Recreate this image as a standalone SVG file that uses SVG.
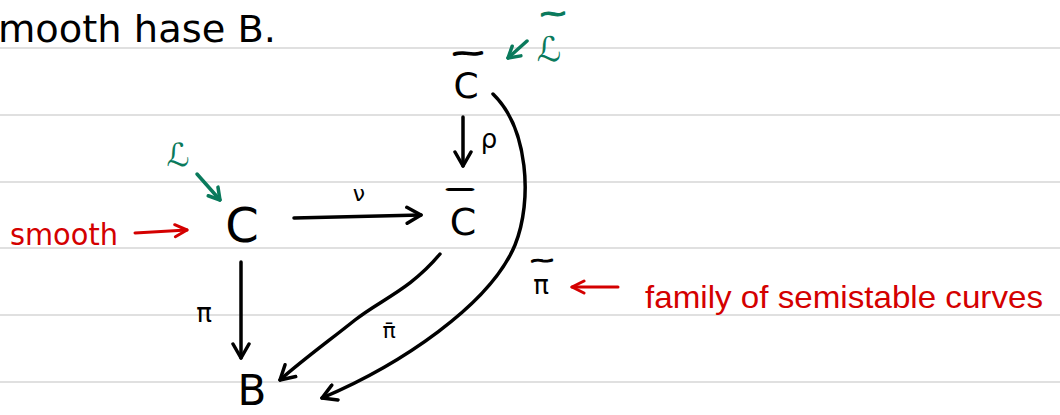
<svg xmlns="http://www.w3.org/2000/svg" width="1060" height="415" viewBox="0 0 1060 415">
  <style>
    .rule { stroke: #d6d6d6; stroke-width: 1.5; }
    .hw { font-family: "DejaVu Sans", "Liberation Sans", sans-serif; }
    .blk { fill: #000; }
    .red { fill: #d40000; }
    .grn { fill: #0a7a5c; }
    .acc { stroke-linejoin: round; }
    .cb { fill: none; stroke: #000; stroke-width: 3.5; stroke-linecap: round; }
    .cr { fill: none; stroke: #d40000; stroke-width: 3; stroke-linecap: round; }
    .cg { fill: none; stroke: #0a7a5c; stroke-width: 3.5; stroke-linecap: round; }
  </style>
  <defs>
    <marker id="ab" markerUnits="userSpaceOnUse" viewBox="-16 -10 18 20" refX="0" refY="0" markerWidth="18" markerHeight="20" orient="auto">
      <path d="M-14,-8 L0,0 L-14,8" fill="none" stroke="#000" stroke-width="3.5" stroke-linecap="round" stroke-linejoin="round"/>
    </marker>
    <marker id="ar" markerUnits="userSpaceOnUse" viewBox="-16 -10 18 20" refX="0" refY="0" markerWidth="18" markerHeight="20" orient="auto">
      <path d="M-12,-6 L0,0 L-12,6" fill="none" stroke="#d40000" stroke-width="3" stroke-linecap="round" stroke-linejoin="round"/>
    </marker>
    <marker id="ag" markerUnits="userSpaceOnUse" viewBox="-16 -10 18 20" refX="0" refY="0" markerWidth="18" markerHeight="20" orient="auto">
      <path d="M-11,-7 L0,0 L-11,6" fill="none" stroke="#0a7a5c" stroke-width="3.5" stroke-linecap="round" stroke-linejoin="round"/>
    </marker>
  </defs>
  <rect width="1060" height="415" fill="#fff"/>
  <g id="ruling">
    <line class="rule" x1="0" y1="48" x2="1060" y2="48"/>
    <line class="rule" x1="0" y1="115" x2="1060" y2="115"/>
    <line class="rule" x1="0" y1="182" x2="1060" y2="182"/>
    <line class="rule" x1="0" y1="248" x2="1060" y2="248"/>
    <line class="rule" x1="0" y1="315" x2="1060" y2="315"/>
    <line class="rule" x1="0" y1="382" x2="1060" y2="382"/>
  </g>
  <g id="heading">
    <text class="hw blk" x="-2" y="42" font-size="38" textLength="278" lengthAdjust="spacingAndGlyphs">mooth hase B.</text>
  </g>
  <g id="connectors">
    <line class="cb" x1="463" y1="117" x2="463" y2="166" marker-end="url(#ab)"/>
    <line class="cb" x1="294" y1="218" x2="421" y2="215" marker-end="url(#ab)"/>
    <line class="cb" x1="241" y1="262" x2="241" y2="358" marker-end="url(#ab)"/>
    <path class="cb" d="M440,254 C410,290 380,300 355,320 C330,340 300,362 280,380" marker-end="url(#ab)"/>
    <path class="cb" d="M493,94 C528,128 533,200 515,245 C490,305 400,365 322,398" marker-end="url(#ab)"/>
    <line class="cr" x1="135" y1="233" x2="187" y2="230" marker-end="url(#ar)"/>
    <line class="cr" x1="618" y1="287" x2="572" y2="287" marker-end="url(#ar)"/>
    <line class="cg" x1="197" y1="174" x2="220" y2="200" marker-end="url(#ag)"/>
    <line class="cg" x1="527" y1="41" x2="508" y2="58" marker-end="url(#ag)"/>
  </g>
  <g id="node-Ctilde">
    <text class="hw blk acc" x="450" y="59" font-size="18" font-weight="bold" stroke="#000" stroke-width="1.4" textLength="36" lengthAdjust="spacingAndGlyphs">~</text>
    <text class="hw blk" x="466" y="98" font-size="36" text-anchor="middle">C</text>
  </g>
  <g id="node-C">
    <text class="hw blk" x="242" y="242" font-size="48" text-anchor="middle">C</text>
  </g>
  <g id="node-Cbar">
    <text class="hw blk acc" x="446" y="197" font-size="10" stroke="#000" stroke-width="2.2" textLength="28" lengthAdjust="spacingAndGlyphs">¯</text>
    <text class="hw blk" x="463" y="235" font-size="38" text-anchor="middle">C</text>
  </g>
  <g id="node-B">
    <text class="hw blk" x="252" y="405" font-size="42" text-anchor="middle">B</text>
  </g>
  <g id="labels">
    <text class="hw blk" x="489" y="148" font-size="26" text-anchor="middle">ρ</text>
    <text class="hw blk" x="359" y="201" font-size="22" text-anchor="middle">ν</text>
    <text class="hw blk" x="204" y="322" font-size="26" text-anchor="middle">π</text>
    <text class="hw blk" x="389" y="338" font-size="22" text-anchor="middle">π̄</text>
    <text class="hw blk acc" x="529" y="265" font-size="14" font-weight="bold" stroke="#000" stroke-width="1.2" textLength="26" lengthAdjust="spacingAndGlyphs">~</text>
    <text class="hw blk" x="541" y="294" font-size="26" text-anchor="middle">π</text>
  </g>
  <g id="note-smooth">
    <text class="hw red" x="10" y="245" font-size="30" textLength="108" lengthAdjust="spacingAndGlyphs">smooth</text>
  </g>
  <g id="note-family">
    <text class="red" x="645" y="308" font-size="32" font-family="Liberation Sans, Arial, sans-serif" textLength="398" lengthAdjust="spacingAndGlyphs">family of semistable curves</text>
  </g>
  <g id="note-L">
    <text class="hw grn" x="178" y="166" font-size="32" text-anchor="middle">ℒ</text>
  </g>
  <g id="note-Ltilde">
    <text class="hw grn acc" x="538" y="21" font-size="22" font-weight="bold" stroke="#0a7a5c" stroke-width="1.1" textLength="30" lengthAdjust="spacingAndGlyphs">~</text>
    <text class="hw grn" x="549" y="61" font-size="34" text-anchor="middle">ℒ</text>
  </g>
</svg>
